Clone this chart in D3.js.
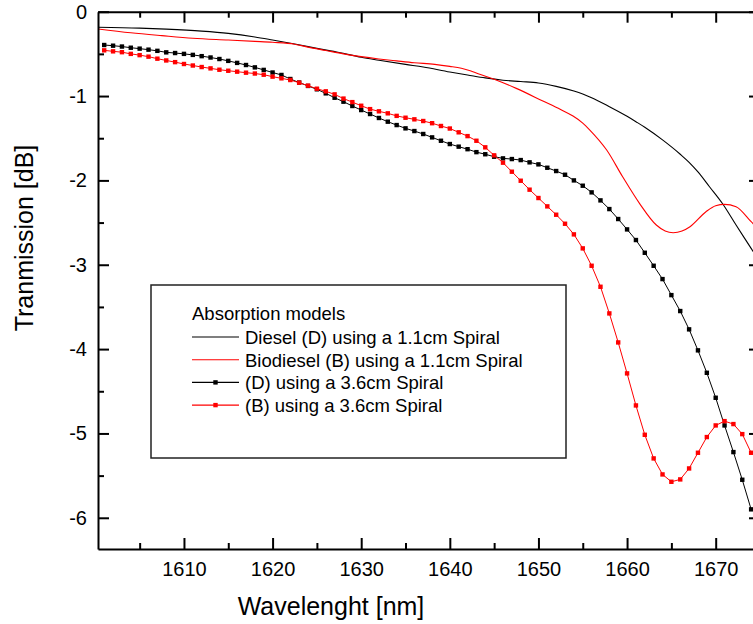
<!DOCTYPE html>
<html>
<head>
<meta charset="utf-8">
<script src="https://cdn.jsdelivr.net/npm/d3@7"></script>
<style>
  html, body { margin: 0; padding: 0; background: #fff; }
  svg { display: block; font-family: "Liberation Sans", Arial, sans-serif; }
</style>
</head>
<body>
<div id="chart-container"></div>
<script>
// wavelengths (nm) of the square markers on the 3.6cm spiral curves
const markerWavelengths = [
  1601, 1602, 1603, 1604, 1605, 1606, 1607, 1608, 1609, 1610,
  1611, 1612, 1613, 1614, 1615, 1616, 1617, 1618, 1619, 1620,
  1621, 1622, 1623, 1624, 1625, 1626, 1627, 1628, 1629, 1630,
  1631, 1632, 1633, 1634, 1635, 1636, 1637, 1638, 1639, 1640,
  1641, 1642, 1643, 1644, 1645, 1646, 1647, 1648, 1649, 1650,
  1651, 1652, 1653, 1654, 1655, 1656, 1657, 1658, 1659, 1660,
  1661, 1662, 1663, 1664, 1665, 1666, 1667, 1668, 1669, 1670,
  1671, 1672, 1673, 1674
];

// (D) using a 3.6cm Spiral
const diesel36 = [
  -0.395, -0.403, -0.413, -0.427, -0.438, -0.45, -0.464, -0.482, -0.49, -0.5,
  -0.512, -0.527, -0.543, -0.561, -0.583, -0.607, -0.632, -0.66, -0.69, -0.721,
  -0.75, -0.798, -0.84, -0.88, -0.92, -0.968, -1.02, -1.067, -1.118, -1.166,
  -1.213, -1.26, -1.304, -1.344, -1.383, -1.415, -1.45, -1.49, -1.53, -1.569,
  -1.6, -1.63, -1.665, -1.69, -1.719, -1.739, -1.747, -1.759, -1.786, -1.81,
  -1.85, -1.889, -1.933, -2.0, -2.063, -2.142, -2.237, -2.34, -2.458, -2.581,
  -2.707, -2.858, -3.012, -3.17, -3.36, -3.549, -3.766, -4.015, -4.281, -4.577,
  -4.905, -5.221, -5.549, -5.9
];

// (B) using a 3.6cm Spiral
const biodiesel36 = [
  -0.458, -0.47, -0.48, -0.5, -0.515, -0.533, -0.557, -0.578, -0.598, -0.62,
  -0.638, -0.656, -0.672, -0.688, -0.7, -0.711, -0.723, -0.733, -0.747, -0.77,
  -0.79, -0.81, -0.842, -0.877, -0.913, -0.944, -0.98, -1.03, -1.072, -1.115,
  -1.155, -1.181, -1.205, -1.235, -1.257, -1.276, -1.296, -1.322, -1.355, -1.385,
  -1.43, -1.475, -1.53, -1.608, -1.703, -1.79, -1.897, -2.004, -2.11, -2.209,
  -2.308, -2.407, -2.514, -2.64, -2.806, -3.012, -3.261, -3.577, -3.921, -4.288,
  -4.668, -5.016, -5.296, -5.486, -5.573, -5.545, -5.415, -5.229, -5.043, -4.905,
  -4.854, -4.889, -5.008, -5.229
];

// Diesel (D) using a 1.1cm Spiral (smooth curve)
const diesel11Wl = [
  1600.3, 1605, 1608, 1612, 1615, 1618, 1620, 1622.5, 1625, 1627.5,
  1630, 1632, 1635, 1637, 1640, 1642, 1644, 1646, 1648, 1650,
  1652, 1654, 1655, 1656, 1658, 1660, 1661, 1662, 1664, 1666,
  1667, 1668, 1669.3, 1670.8, 1672.3, 1674, 1675
];
const diesel11 = [
  -0.185, -0.195, -0.207, -0.23, -0.257, -0.3, -0.336, -0.383, -0.435, -0.484,
  -0.54, -0.575, -0.625, -0.655, -0.715, -0.75, -0.785, -0.812, -0.828, -0.845,
  -0.885, -0.94, -0.976, -1.02, -1.126, -1.24, -1.304, -1.37, -1.52, -1.69,
  -1.786, -1.9, -2.075, -2.28, -2.529, -2.806, -2.97
];

// Biodiesel (B) using a 1.1cm Spiral
const biodiesel11Wl = [
  1600.3, 1604, 1607.5, 1611, 1615, 1618, 1620, 1622.5, 1624, 1626,
  1628, 1630, 1632, 1634, 1636, 1638.3, 1640, 1641.3, 1642.3, 1643.2,
  1645, 1647.5, 1650.5, 1652.5, 1653.9, 1655, 1655.8, 1657.7, 1659.5, 1661.4,
  1663.3, 1664.3, 1665.2, 1666.2, 1667.1, 1668.9, 1670, 1671, 1672.3, 1674,
  1675
];
const biodiesel11 = [
  -0.205, -0.25, -0.284, -0.315, -0.336, -0.352, -0.363, -0.385, -0.42, -0.46,
  -0.5, -0.533, -0.56, -0.583, -0.605, -0.624, -0.648, -0.671, -0.7, -0.735,
  -0.8, -0.909, -1.059, -1.16, -1.237, -1.32, -1.403, -1.64, -1.957, -2.272,
  -2.529, -2.6, -2.62, -2.6, -2.549, -2.372, -2.3, -2.284, -2.312, -2.49,
  -2.6
];

const xTicks = [1610, 1620, 1630, 1640, 1650, 1660, 1670];
const xMinorTicks = [1605, 1615, 1625, 1635, 1645, 1655, 1665, 1675];
const yTicks = [0, -1, -2, -3, -4, -5, -6];
const yMinorTicks = [-0.5, -1.5, -2.5, -3.5, -4.5, -5.5];

const legendTitle = "Absorption models";
const legendLabels = [
  "Diesel (D) using a 1.1cm Spiral",
  "Biodiesel (B) using a 1.1cm Spiral",
  "(D) using a 3.6cm Spiral",
  "(B) using a 3.6cm Spiral"
];

const W = 753, H = 624;
const plotLeft = 98, plotRight = 760, plotTop = 11.7, plotBottom = 549;

const svg = d3.select("#chart-container").append("svg")
  .attr("width", W)
  .attr("height", H);

const x = d3.scaleLinear().domain([1600.3, 1675]).range([plotLeft, plotRight]);
const y = d3.scaleLinear().domain([-6.37, 0]).range([plotBottom, plotTop]);

svg.append("clipPath").attr("id", "plot-clip")
  .append("rect")
  .attr("x", plotLeft).attr("y", plotTop)
  .attr("width", plotRight - plotLeft).attr("height", plotBottom - plotTop);

const plot = svg.append("g").attr("clip-path", "url(#plot-clip)");

const smooth = d3.line().x(d => x(d[0])).y(d => y(d[1])).curve(d3.curveMonotoneX);
const straight = d3.line().x(d => x(d[0])).y(d => y(d[1]));

const series = [
  { wl: diesel11Wl, v: diesel11, color: "#000", markers: false },
  { wl: biodiesel11Wl, v: biodiesel11, color: "#ff0000", markers: false },
  { wl: markerWavelengths, v: diesel36, color: "#000", markers: true },
  { wl: markerWavelengths, v: biodiesel36, color: "#ff0000", markers: true }
];

series.forEach(s => {
  const pts = s.wl.map((w, i) => [w, s.v[i]]);
  plot.append("path")
    .attr("d", s.markers ? straight(pts) : smooth(pts))
    .attr("fill", "none")
    .attr("stroke", s.color)
    .attr("stroke-width", s.markers ? 1 : 1.1);
  if (s.markers) {
    plot.selectAll(null)
      .data(pts)
      .enter()
      .append("rect")
      .attr("x", d => x(d[0]) - 2.2)
      .attr("y", d => y(d[1]) - 2.2)
      .attr("width", 4.4)
      .attr("height", 4.4)
      .attr("fill", s.color);
  }
});

// axes: bottom/left with labels, top/right mirrored, ticks inward
const major = 11, minor = 6;
const plainNumber = d => String(d); // keep a plain hyphen for negatives

function styleAxis(g) {
  g.select(".domain").attr("stroke", "#000").attr("stroke-width", 2);
  g.selectAll(".tick line").attr("stroke", "#000").attr("stroke-width", 2);
}

function styleLabels(g) {
  g.selectAll("text")
    .attr("font-size", 20)
    .attr("fill", "#000")
    .attr("font-family", "Liberation Sans, Arial, sans-serif");
}

svg.append("g")
  .attr("transform", `translate(0,${plotBottom})`)
  .call(d3.axisBottom(x).tickValues(xTicks).tickSizeInner(-major).tickSizeOuter(0).tickPadding(13).tickFormat(plainNumber))
  .call(styleAxis)
  .call(styleLabels);

svg.append("g")
  .attr("transform", `translate(0,${plotBottom})`)
  .call(d3.axisBottom(x).tickValues(xMinorTicks).tickSizeInner(-minor).tickSizeOuter(0).tickFormat(""))
  .call(styleAxis)
  .call(g => g.select(".domain").remove());

svg.append("g")
  .attr("transform", `translate(0,${plotTop})`)
  .call(d3.axisTop(x).tickValues(xTicks).tickSizeInner(-major).tickSizeOuter(0).tickFormat(""))
  .call(styleAxis);

svg.append("g")
  .attr("transform", `translate(0,${plotTop})`)
  .call(d3.axisTop(x).tickValues(xMinorTicks).tickSizeInner(-minor).tickSizeOuter(0).tickFormat(""))
  .call(styleAxis)
  .call(g => g.select(".domain").remove());

svg.append("g")
  .attr("transform", `translate(${plotLeft},0)`)
  .call(d3.axisLeft(y).tickValues(yTicks).tickSizeInner(-major).tickSizeOuter(0).tickPadding(11).tickFormat(plainNumber))
  .call(styleAxis)
  .call(styleLabels);

svg.append("g")
  .attr("transform", `translate(${plotLeft},0)`)
  .call(d3.axisLeft(y).tickValues(yMinorTicks).tickSizeInner(-minor).tickSizeOuter(0).tickFormat(""))
  .call(styleAxis)
  .call(g => g.select(".domain").remove());

svg.append("g")
  .attr("transform", `translate(${plotRight},0)`)
  .call(d3.axisRight(y).tickValues(yTicks).tickSizeInner(-major).tickSizeOuter(0).tickFormat(""))
  .call(styleAxis);

// axis titles
svg.append("text")
  .attr("x", 331)
  .attr("y", 615)
  .attr("text-anchor", "middle")
  .attr("font-size", 25)
  .attr("fill", "#000")
  .text("Wavelenght [nm]");

svg.append("text")
  .attr("transform", "translate(33,238) rotate(-90)")
  .attr("text-anchor", "middle")
  .attr("font-size", 25)
  .attr("fill", "#000")
  .text("Tranmission [dB]");

// legend
const legend = svg.append("g");
legend.append("rect")
  .attr("x", 151).attr("y", 285)
  .attr("width", 415).attr("height", 173)
  .attr("fill", "#fff")
  .attr("stroke", "#222")
  .attr("stroke-width", 1.5);

legend.append("text")
  .attr("x", 192).attr("y", 320)
  .attr("font-size", 18.5)
  .attr("fill", "#000")
  .text(legendTitle);

legendLabels.forEach((label, i) => {
  const s = series[i];
  const ly = 337 + i * 22.7;
  legend.append("line")
    .attr("x1", 192).attr("x2", 239)
    .attr("y1", ly).attr("y2", ly)
    .attr("stroke", s.color)
    .attr("stroke-width", 1.1);
  if (s.markers) {
    legend.append("rect")
      .attr("x", 215.5 - 2.2).attr("y", ly - 2.2)
      .attr("width", 4.4).attr("height", 4.4)
      .attr("fill", s.color);
  }
  legend.append("text")
    .attr("x", 245).attr("y", ly + 7)
    .attr("font-size", 18.5)
    .attr("fill", "#000")
    .text(label);
});
</script>
</body>
</html>
